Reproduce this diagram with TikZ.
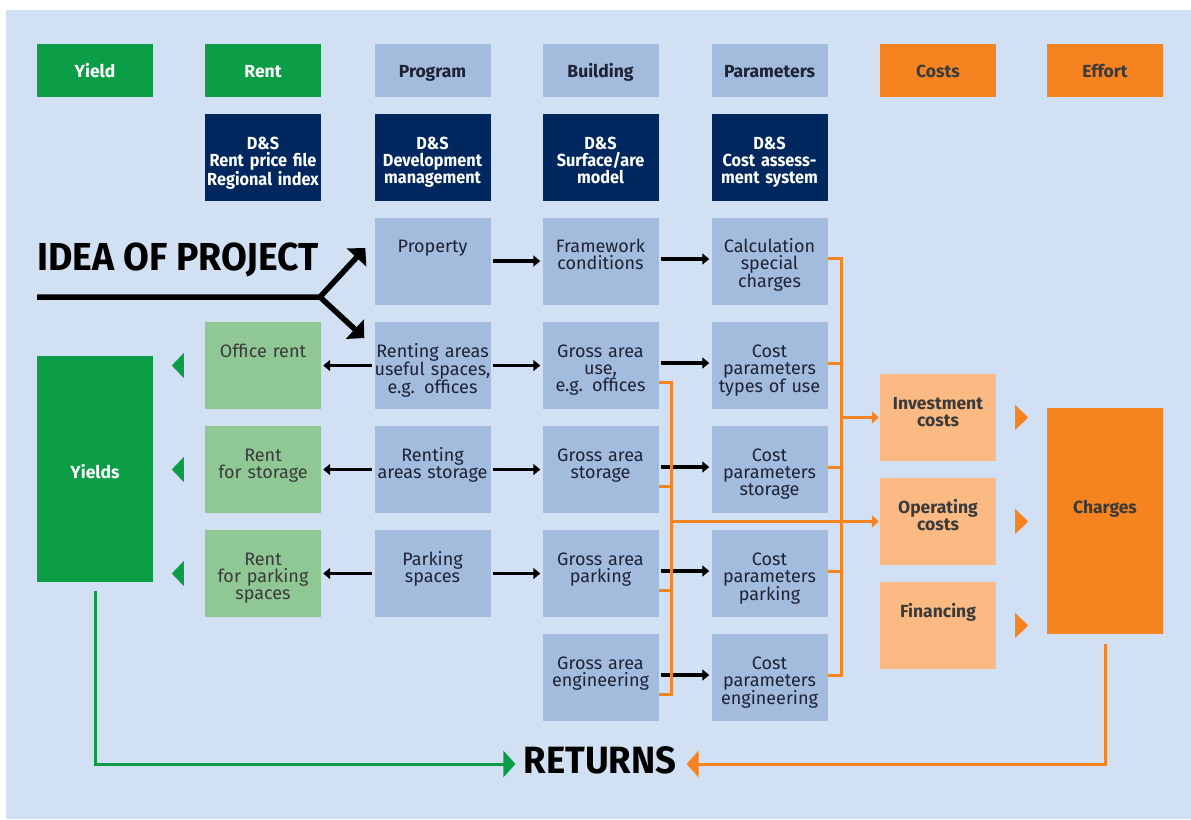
\documentclass[tikz,border=0pt]{standalone}
\usepackage{fontspec}
\setmainfont{Fira Sans}
\newfontfamily\bigfont{Fira Sans}[FakeStretch=0.96]
\newfontfamily\toolfont{Fira Sans}[FakeStretch=0.93]
\usetikzlibrary{positioning, arrows.meta}
\definecolor{dsBack}{HTML}{D1E0F3}
\definecolor{dsBlue}{HTML}{A3BBDD}
\definecolor{dsNavy}{HTML}{00275E}
\definecolor{dsGreen}{HTML}{0B9E46}
\definecolor{dsLGreen}{HTML}{8FC895}
\definecolor{dsOrange}{HTML}{F58420}
\definecolor{dsLOrange}{HTML}{FBBA83}
\definecolor{dsInk}{HTML}{1E2235}
\definecolor{dsGrey}{HTML}{3A3A3A}

\begin{document}
\begin{tikzpicture}[x=1pt, y=-1pt,
  head/.style={minimum width=116pt, minimum height=53pt, inner sep=0pt,
               text height=14pt, text depth=0pt,
               font=\fontsize{17.5}{17}\selectfont\bfseries},
  cell/.style={minimum width=116pt, text width=130pt, inner xsep=-7pt, inner ysep=0pt,
               text height=35pt, text depth=52pt, align=center,
               font=\fontsize{18}{17}\selectfont},
  plan/.style={cell, fill=dsBlue, text=dsInk},
  rent/.style={cell, fill=dsLGreen, text=dsGrey},
  tool/.style={cell, fill=dsNavy, text=white,
               font=\toolfont\bfseries\fontsize{17.5}{17}\selectfont},
  cost/.style={cell, fill=dsLOrange, text=dsGrey, font=\fontsize{17.5}{17}\selectfont\bfseries},
  tall/.style={minimum width=116pt, inner sep=0pt, font=\fontsize{17.5}{17}\selectfont\bfseries},
  big/.style={inner sep=0pt, font=\bigfont\bfseries\fontsize{38}{38}\selectfont},
  arr/.style={line width=3.5pt, shorten <=2pt, shorten >=2pt,
              -{Triangle[length=7pt,width=11pt]}},
  obus/.style={dsOrange, line width=3pt},
  oarr/.style={obus, shorten >=1pt, -{Triangle[length=7pt,width=12pt]}},
  back/.style={line width=3pt, -{Triangle[length=12pt,width=26pt]}},
  fork/.style={line width=5.5pt, -{Triangle[length=13pt,width=26pt]}},
]
  \useasboundingbox (0,0) rectangle (1191,819);
  \fill[dsBack] (6,10) rectangle (1191,819);

  % column heads
  \node[head, fill=dsGreen, text=white] (hYield) at (95,70.5) {Yield};
  \node[head, fill=dsGreen, text=white] (hRent) at (263,70.5) {Rent};
  \node[head, fill=dsBlue, text=dsInk] (hProg) at (432.5,70.5) {Program};
  \node[head, fill=dsBlue, text=dsInk] (hBuild) at (600.5,70.5) {Building};
  \node[head, fill=dsBlue, text=dsInk] (hPar) at (769.5,70.5) {Parameters};
  \node[head, fill=dsOrange, text=dsGrey] (hCost) at (938,70.5) {Costs};
  \node[head, fill=dsOrange, text=dsGrey] (hEff) at (1105,70.5) {Effort};

  % D&S tools
  \node[tool] (dsRent) at (263,157.5) {D\&S\\Rent price file\\Regional index};
  \node[tool] (dsProg) at (432.5,157.5) {D\&S\\Development\\management};
  \node[tool] (dsBuild) at (600.5,157.5) {D\&S\\Surface/are\\model};
  \node[tool] (dsPar) at (769.5,157.5) {D\&S\\Cost assess-\\ment system};

  % planning grid
  \node[plan] (prop) at (432.5,261) {Property};
  \node[plan] (frame) at (600.5,261) {Framework\\conditions};
  \node[plan] (calc) at (769.5,261) {Calculation\\special\\charges};

  \node[rent] (office) at (263,365.5) {Office rent};
  \node[plan] (rentUse) at (432.5,365.5) {Renting areas\\useful spaces,\\e.g. offices};
  \node[plan] (grossUse) at (600.5,365.5) {Gross area\\use,\\e.g. offices};
  \node[plan] (costUse) at (769.5,365.5) {Cost\\parameters\\types of use};

  \node[rent] (rentSto) at (263,469.5) {Rent\\for storage};
  \node[plan] (areaSto) at (432.5,469.5) {Renting\\areas storage};
  \node[plan] (grossSto) at (600.5,469.5) {Gross area\\storage};
  \node[plan] (costSto) at (769.5,469.5) {Cost\\parameters\\storage};

  \node[rent] (rentPark) at (263,573.5) {Rent\\for parking\\spaces};
  \node[plan] (parkSp) at (432.5,573.5) {Parking\\spaces};
  \node[plan] (grossPark) at (600.5,573.5) {Gross area\\parking};
  \node[plan] (costPark) at (769.5,573.5) {Cost\\parameters\\parking};

  \node[plan] (grossEng) at (600.5,677.5) {Gross area\\engineering};
  \node[plan] (costEng) at (769.5,677.5) {Cost\\parameters\\engineering};

  % costs and totals
  \node[cost] (invest) at (938,417.5) {Investment\\costs};
  \node[cost] (operate) at (938,521.5) {Operating\\costs};
  \node[cost] (finance) at (938,625.5) {Financing};
  \node[tall, fill=dsGreen, text=white, text height=122.5pt, text depth=103.5pt]
    (yields) at (95,469) {Yields};
  \node[tall, fill=dsOrange, text=dsGrey, text height=105.5pt, text depth=120.5pt]
    (charges) at (1105,521) {Charges};

  % idea of project
  \node[big, anchor=base west, font=\bigfont\bfseries\fontsize{39}{39}\selectfont]
    (idea) at (37,270) {IDEA OF PROJECT};
  \coordinate (ideaStart) at (37,297);
  \coordinate (split) at (320,297);
  \draw[fork, line join=miter] (ideaStart) -- (split) -- ([xshift=-9pt,yshift=13pt]prop.west);
  \draw[fork] (split) -- ([xshift=-10pt,yshift=27.5pt]rentUse.west);

  % black flow
  \draw[arr] (prop) -- (frame);
  \draw[arr] ([yshift=2pt]frame.east) -- ([yshift=2pt]calc.west);
  \foreach \a/\b in {rentUse/office, areaSto/rentSto, parkSp/rentPark,
                     rentUse/grossUse, areaSto/grossSto, parkSp/grossPark}
    \draw[arr] (\a) -- (\b);
  \foreach \a/\b in {grossUse/costUse, grossSto/costSto, grossPark/costPark, grossEng/costEng}
    \draw[arr] ([yshift=2.5pt]\a.east) -- ([yshift=2.5pt]\b.west);

  % orange buses
  \coordinate (rbus) at (841,0);
  \coordinate (lbus) at (671,0);
  \draw[obus] ([yshift=2.5pt]calc.east) -| ([xshift=13.5pt,yshift=2.5pt]costEng.east)
    -- ([yshift=2.5pt]costEng.east);
  \foreach \n in {costUse, costSto, costPark}
    \draw[obus] ([yshift=2.5pt]\n.east) -- ++(13.5,0);
  \draw[obus] ([yshift=-16.5pt]grossUse.east) -| ([xshift=12.5pt,yshift=-16.5pt]grossEng.east)
    -- ([yshift=-16.5pt]grossEng.east);
  \foreach \n in {grossSto, grossPark}
    \draw[obus] ([yshift=-16.5pt]\n.east) -- ++(12.5,0);
  \draw[oarr] (invest.west -| rbus) -- (invest.west);
  \draw[oarr] (operate.west -| lbus) -- (operate.west);

  % markers
  \foreach \n in {office, rentSto, rentPark}
    \fill[dsGreen] ([xshift=-21pt,yshift=12.5pt]\n.west) -- ([xshift=-33pt]\n.west)
      -- ([xshift=-21pt,yshift=-12.5pt]\n.west) -- cycle;
  \foreach \n in {invest, operate, finance}
    \fill[dsOrange] ([xshift=19pt,yshift=12.5pt]\n.east) -- ([xshift=32pt]\n.east)
      -- ([xshift=19pt,yshift=-12.5pt]\n.east) -- cycle;

  % returns
  \node[big] (returns) at (600,760) {RETURNS};
  \draw[back, dsGreen] ([yshift=-9pt]yields.south) |- ([xshift=-8pt,yshift=-4pt]returns.west);
  \draw[back, dsOrange] ([yshift=-10pt]charges.south) |- ([xshift=10pt,yshift=-4pt]returns.east);
\end{tikzpicture}
\end{document}
